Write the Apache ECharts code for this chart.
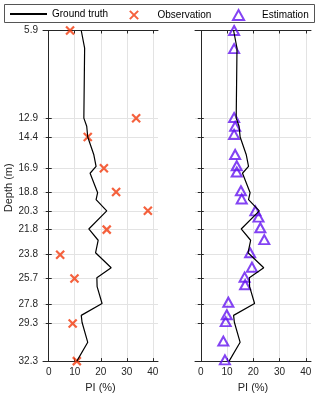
<!DOCTYPE html>
<html>
<head>
<meta charset="utf-8">
<script src="https://cdn.jsdelivr.net/npm/echarts@6/dist/echarts.min.js"></script>
<style>html,body{margin:0;padding:0;background:#fff}#c{width:321px;height:398px}</style>
</head>
<body>
<div id="c"></div>
<script>
// ---- data ----
const depthTicks = [5.9, 12.9, 14.4, 16.9, 18.8, 20.3, 21.8, 23.8, 25.7, 27.8, 29.3, 32.3];
const xTicks = [0, 10, 20, 30, 40];
const truthDepth = [5.9, 7.3, 12.9, 13.55, 14.4, 15.8, 16.75, 17.3, 18.85, 19.4, 20.3, 21.75, 22.65, 23.65, 24.85, 25.65, 26.35, 27.7, 28.65, 29.2, 30.8, 32.3];
const truthPI = [12.5, 13.8, 13.5, 14.6, 15.0, 17.3, 18.2, 15.9, 18.8, 18.2, 22.3, 15.4, 19.0, 18.0, 24.0, 18.5, 18.6, 20.5, 12.5, 12.8, 15.0, 10.8];
const obsDepth = [5.9, 12.9, 14.4, 16.9, 18.8, 20.3, 21.8, 23.8, 25.7, 29.3, 32.3];
const obsPI = [8.2, 33.6, 15.0, 21.2, 25.9, 38.1, 22.3, 4.4, 9.9, 9.2, 10.8];
const estDepth = [5.9, 7.35, 12.85, 13.55, 14.2, 15.8, 16.7, 17.2, 18.7, 19.35, 20.3, 20.8, 21.65, 22.6, 23.65, 24.8, 25.6, 26.2, 27.6, 28.6, 29.15, 30.7, 32.2];
const estPI = [12.7, 12.7, 12.7, 13.1, 12.7, 13.1, 13.7, 13.7, 15.3, 15.6, 20.8, 22.0, 22.7, 24.2, 18.8, 19.5, 16.7, 16.9, 10.5, 9.9, 9.5, 8.6, 9.2];

const FONT = 'Liberation Sans';
const TXT = '#262626';
const RED = '#F23A0C';
const PURPLE = '#6414F0';
const zip = (xs, ys) => xs.map((x, i) => [x, ys[i]]);

function xAxes(gi) {
  const common = {
    type: 'value', gridIndex: gi, min: -2.2, max: 42,
    axisLine: { show: true, lineStyle: { color: TXT, width: 1 } },
    axisTick: { show: true, inside: true, length: 3, customValues: xTicks, lineStyle: { color: TXT } },
  };
  return [
    Object.assign({}, common, {
      position: 'bottom',
      axisLabel: { show: true, customValues: xTicks, color: TXT, fontSize: 10, fontFamily: FONT, margin: 6 },
      splitLine: { show: true, lineStyle: { color: '#E3E3E3', width: 1 } },
      name: 'PI (%)', nameLocation: 'middle', nameGap: 19,
      nameTextStyle: { color: TXT, fontSize: 11, fontFamily: FONT }
    }),
    Object.assign({}, common, {
      position: 'top',
      axisLabel: { show: false },
      splitLine: { show: false }
    })
  ];
}
function yAxes(gi, showLabel) {
  const common = {
    type: 'value', gridIndex: gi, min: 5.9, max: 32.3, inverse: true,
    axisLine: { show: true, lineStyle: { color: TXT, width: 1 } },
    axisTick: { show: true, inside: true, length: 3, customValues: depthTicks, lineStyle: { color: TXT } },
  };
  const left = Object.assign({}, common, {
    position: 'left',
    axisLabel: { show: showLabel, customValues: depthTicks, color: TXT, fontSize: 10, fontFamily: FONT, margin: 5 },
    splitLine: { show: true, lineStyle: { color: '#E3E3E3', width: 1 } }
  });
  if (showLabel) {
    left.name = 'Depth (m)';
    left.nameLocation = 'middle';
    left.nameGap = 28;
    left.nameTextStyle = { color: TXT, fontSize: 11, fontFamily: FONT, padding: [0, 0, 0, 16] };
  }
  const right = Object.assign({}, common, {
    position: 'right', axisLabel: { show: false }, splitLine: { show: false }
  });
  return [left, right];
}

const crossPath = 'path://M0,0L10,10M10,0L0,10';
const crossIcon = 'path://M-1,-1M11,11M0,0L10,10M10,0L0,10';
const triIcon = 'path://M0,9L5,0L10,9Z';

const legendBase = {
  top: 9, padding: 0, itemWidth: 37, itemHeight: 10,
  textStyle: { color: '#000', fontSize: 10, fontFamily: FONT },
  selectedMode: false
};

const option = {
  animation: false,
  textStyle: { fontFamily: FONT },
  graphic: [{
    type: 'rect', shape: { x: 4.5, y: 4.5, width: 310, height: 18 },
    style: { fill: '#fff', stroke: '#555', lineWidth: 1 }, z: 0, silent: true
  }],
  legend: [
    Object.assign({}, legendBase, { left: 9, data: [{ name: 'Ground truth', itemStyle: { opacity: 0 } }] }),
    Object.assign({}, legendBase, { left: 128, data: [{ name: 'Observation', icon: crossIcon }] }),
    Object.assign({}, legendBase, { left: 232, data: [{ name: 'Estimation', icon: triIcon }] })
  ],
  grid: [
    { left: 43, top: 30.5, width: 115, height: 331 },
    { left: 195, top: 30.5, width: 116, height: 331 }
  ],
  xAxis: xAxes(0).concat(xAxes(1)),
  yAxis: yAxes(0, true).concat(yAxes(1, false)),
  series: [
    { name: 'Ground truth', type: 'line', xAxisIndex: 0, yAxisIndex: 0, data: zip(truthPI, truthDepth),
      symbol: 'none', lineStyle: { color: '#000', width: 1.2 }, itemStyle: { color: '#000' } },
    { name: 'Observation', type: 'scatter', xAxisIndex: 0, yAxisIndex: 0, data: zip(obsPI, obsDepth),
      symbol: crossPath, symbolSize: 8,
      itemStyle: { color: RED, borderColor: RED, borderWidth: 2.2 } },
    { name: 'Ground truth', type: 'line', xAxisIndex: 2, yAxisIndex: 2, data: zip(truthPI, truthDepth),
      symbol: 'none', lineStyle: { color: '#000', width: 1.2 }, itemStyle: { color: '#000' } },
    { name: 'Estimation', type: 'scatter', xAxisIndex: 2, yAxisIndex: 2, data: zip(estPI, estDepth),
      symbol: 'triangle', symbolSize: [10, 9],
      itemStyle: { color: 'rgba(0,0,0,0)', borderColor: PURPLE, borderWidth: 2 } }
  ]
};
const chart = echarts.init(document.getElementById('c'), null, { renderer: 'canvas' });
chart.setOption(option);
</script>
</body>
</html>
